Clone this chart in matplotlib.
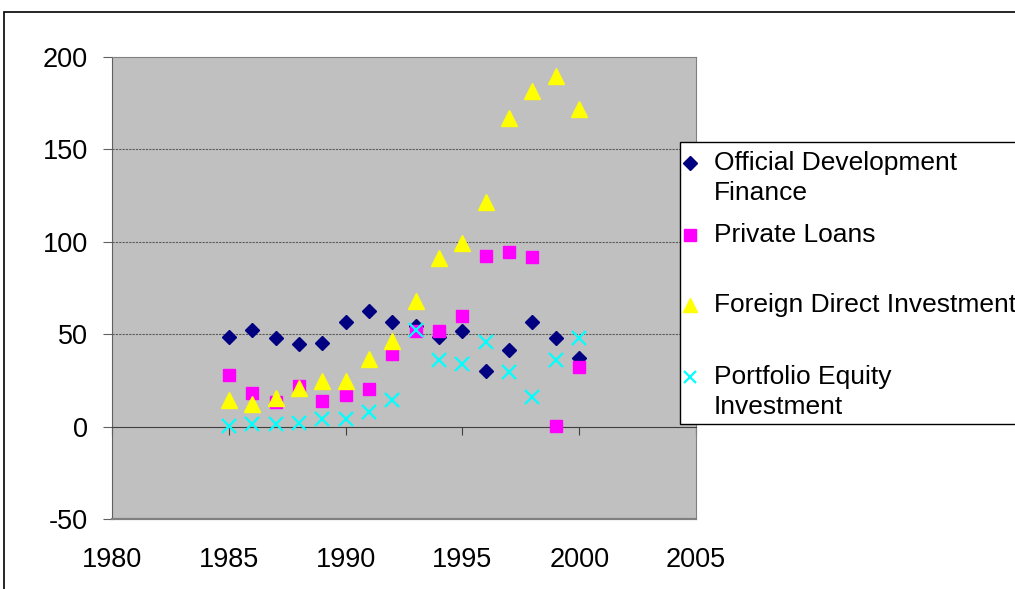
import matplotlib
matplotlib.use("Agg")
import matplotlib.pyplot as plt
from matplotlib.patches import Rectangle
from matplotlib.lines import Line2D

plt.rcParams["font.family"] = ["Liberation Sans", "DejaVu Sans"]
plt.rcParams["axes.unicode_minus"] = False

years = list(range(1985, 2001))
official_dev = [48.6, 52.3, 48.1, 44.5, 45.1, 56.8, 62.7, 56.4, 54.6, 48.6,
                51.7, 30.1, 41.4, 56.4, 47.8, 37.0]
private_loans = [27.9, 18.0, 13.5, 22.0, 14.0, 17.1, 20.2, 39.1, 51.7, 51.8,
                 59.8, 92.5, 94.6, 91.6, 0.5, 32.4]
fdi = [14.5, 12.0, 15.7, 21.1, 24.9, 24.6, 36.6, 46.3, 68.0, 91.0,
       99.2, 121.7, 166.8, 181.8, 189.7, 171.9]
portfolio_eq = [0.3, 1.2, 1.2, 1.8, 3.9, 3.9, 8.1, 14.4, 52.3, 36.0,
                33.9, 45.9, 29.4, 16.2, 36.0, 47.8]

labels = ["Official Development\nFinance", "Private Loans",
          "Foreign Direct Investment", "Portfolio Equity\nInvestment"]
xticks = [1980, 1985, 1990, 1995, 2000, 2005]
yticks = [-50, 0, 50, 100, 150, 200]

W, H = 1015, 589
FS = 19.5      # tick labels
FS_LEG = 19    # legend text


def fx(px):
    return px / W


def fy(py):
    return 1 - py / H


fig = plt.figure(figsize=(W / 100, H / 100), dpi=100)
# chart-area border (runs off the right / bottom edge like the original)
fig.patches.append(Rectangle((fx(4), fy(620)), fx(1030) - fx(4), fy(12) - fy(620),
                             transform=fig.transFigure, fill=False,
                             edgecolor="black", lw=1.2, zorder=0))

ax = fig.add_axes([fx(112), fy(519), fx(696) - fx(112), fy(57) - fy(519)])
ax.set_facecolor("#C0C0C0")
ax.set_xlim(1980, 2005)
ax.set_ylim(-50, 200)

for y in [50, 100, 150]:
    ax.axhline(y, color="#5a5a5a", lw=0.8, ls=(0, (2, 1)), zorder=1)

series = [
    (official_dev, dict(marker="D", ms=7.5, color="#000080", mec="#000080")),
    (private_loans, dict(marker="s", ms=9, color="#FF00FF", mec="#FF00FF")),
    (fdi, dict(marker="^", ms=11, color="#FFFF00", mec="#FFFF00")),
    (portfolio_eq, dict(marker="x", ms=10, color="#00FFFF", mew=1.6)),
]
for vals, st in series:
    ax.plot(years, vals, ls="none", zorder=3, **st)

# axis crossing at y=0, labels at the bottom
for s in ["top", "right"]:
    ax.spines[s].set_color("#808080")
ax.spines["left"].set_color("#606060")
ax.spines["bottom"].set_position(("data", 0))
ax.spines["bottom"].set_color("#404040")
ax.set_xticks(xticks)
ax.tick_params(axis="x", direction="out", length=6, color="#404040",
               labelbottom=False)
ax.set_yticks(yticks)
ax.tick_params(axis="y", direction="out", length=6.5, color="#606060",
               labelsize=FS, pad=11)
ax.plot([0, 1], [0, 0], transform=ax.transAxes, color="#808080", lw=1.6,
        clip_on=False, zorder=4)

ax2 = ax.twiny()
ax2.set_xlim(1980, 2005)
ax2.set_xticks(xticks)
ax2.xaxis.set_ticks_position("bottom")
ax2.xaxis.set_label_position("bottom")
ax2.tick_params(axis="x", length=0, labelsize=FS, pad=20)
for s in ax2.spines.values():
    s.set_visible(False)

# legend box
fig.patches.append(Rectangle((fx(680), fy(424)), fx(1040) - fx(680), fy(142) - fy(424),
                             transform=fig.transFigure, facecolor="white",
                             edgecolor="black", lw=1.0, zorder=5))
rows_y = [163, 235, 305, 377]
for (vals, st), lab, py in zip(series, labels, rows_y):
    lst = dict(st)
    lst["ms"] = lst["ms"] * 0.9
    fig.add_artist(Line2D([fx(690)], [fy(py)], transform=fig.transFigure,
                          ls="none", zorder=6, **lst))
    for i, line in enumerate(lab.split("\n")):
        fig.text(fx(714), fy(py + 30 * i), line, fontsize=FS_LEG, va="center",
                 ha="left", zorder=6)

fig.savefig("out.png", dpi=100)
